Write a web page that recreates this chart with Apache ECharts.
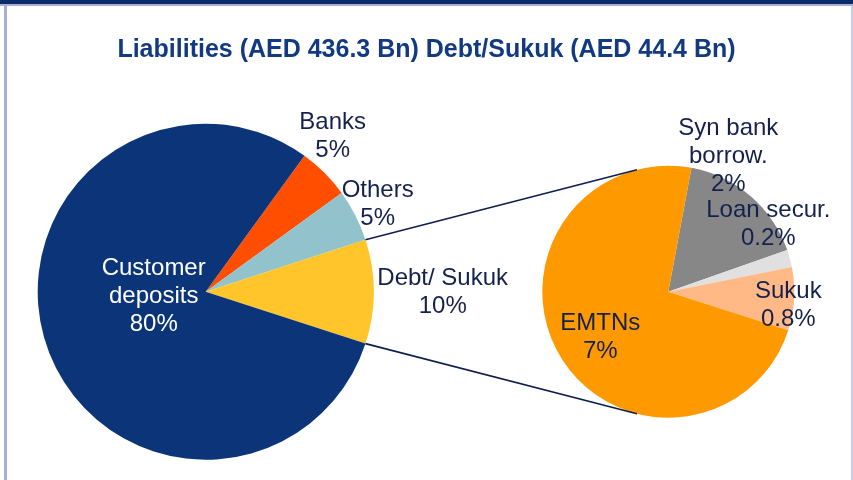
<!DOCTYPE html>
<html>
<head>
<meta charset="utf-8">
<script src="https://cdn.jsdelivr.net/npm/echarts@6/dist/echarts.min.js"></script>
<style>
html,body{margin:0;padding:0;background:#fff}
#chart{width:853px;height:480px}
</style>
</head>
<body>
<div id="chart"></div>
<script>
// liabilities split (% of total liabilities), clockwise from Banks
var liabNames = ['Banks', 'Others', 'Debt/ Sukuk', 'Customer\ndeposits'];
var liabValues = [5, 5, 10, 80];
var liabLabels = ['5%', '5%', '10%', '80%'];

// debt/sukuk breakdown (% of total liabilities), clockwise from Syn bank
var debtNames = ['Syn bank\nborrow.', 'Loan secur.', 'Sukuk', 'EMTNs'];
var debtValues = [1.67, 0.22, 0.81, 7.3];
var debtLabels = ['2%', '0.2%', '0.8%', '7%'];

var liabColors = ['#ff4e00', '#92c3cc', '#ffc52b', '#0b3578'];
var debtColors = ['#878787', '#e0e0e0', '#ffb987', '#ff9900'];

var leftPie = {cx: 205.7, cy: 291.7, r: 168, start: 54};
var rightPie = {cx: 668.3, cy: 291.7, r: 126, start: 79.4};
// label block centres, offset from each pie's centre
var liabLabelPos = [[127, -155], [172, -87], [237, 1], [-52, 5]];
var debtLabelPos = [[60, -135], [100, -67], [120, 14], [-68, 46]];
var zoomAngle = 104.4; // where the connector lines meet the small pie

var textColor = '#14214d';
var font = '"Liberation Sans", Arial, sans-serif';

var chart = echarts.init(document.getElementById('chart'));

function pieData(names, values, colors, whiteIdx) {
  return names.map(function (n, i) {
    return {
      name: n, value: values[i],
      itemStyle: {color: colors[i]},
      label: {color: i === whiteIdx ? '#ffffff' : textColor}
    };
  });
}

function pt(p, a) {
  var rad = a * Math.PI / 180;
  return [p.cx + p.r * Math.cos(rad), p.cy - p.r * Math.sin(rad)];
}

// edges of the Debt/ Sukuk slice on the big pie
var liabTotal = liabValues.reduce(function (s, v) { return s + v; }, 0);
var debtStart = leftPie.start - 360 * (liabValues[0] + liabValues[1]) / liabTotal;
var debtEnd = debtStart - 360 * liabValues[2] / liabTotal;
var up0 = pt(leftPie, debtStart), up1 = pt(rightPie, zoomAngle);
var lo0 = pt(leftPie, debtEnd), lo1 = pt(rightPie, -zoomAngle);

var lineStyle = {stroke: '#0d1f4d', lineWidth: 1.6};

var option = {
  animation: false,
  backgroundColor: '#ffffff',
  title: {
    text: 'Liabilities (AED 436.3 Bn) Debt/Sukuk (AED 44.4 Bn)',
    left: 'center',
    top: 38,
    padding: 0,
    textStyle: {fontFamily: font, fontSize: 25, fontWeight: 'bold', color: '#123a82'}
  },
  graphic: [
    {type: 'rect', shape: {x: 0, y: 0, width: 853, height: 4}, style: {fill: '#0b2a6a'}},
    {type: 'rect', shape: {x: 0, y: 4, width: 853, height: 2}, style: {fill: '#a8aed6'}},
    {type: 'rect', shape: {x: 4, y: 6, width: 3, height: 474}, style: {fill: '#a8aed6'}},
    {type: 'rect', shape: {x: 851, y: 6, width: 2, height: 474}, style: {fill: '#c8cce6'}},
    {type: 'line', shape: {x1: up0[0], y1: up0[1], x2: up1[0], y2: up1[1]}, style: lineStyle, z: 10},
    {type: 'line', shape: {x1: lo0[0], y1: lo0[1], x2: lo1[0], y2: lo1[1]}, style: lineStyle, z: 10}
  ],
  series: [
    {
      type: 'pie',
      center: [leftPie.cx, leftPie.cy],
      radius: leftPie.r,
      startAngle: leftPie.start,
      avoidLabelOverlap: false,
      emphasis: {disabled: true},
      label: {
        position: 'inside',
        fontFamily: font, fontSize: 24, lineHeight: 28,
        formatter: function (p) { return p.name + '\n' + liabLabels[p.dataIndex]; }
      },
      labelLine: {show: false},
      labelLayout: function (p) {
        var o = liabLabelPos[p.dataIndex];
        return {x: leftPie.cx + o[0], y: leftPie.cy + o[1], align: 'center', verticalAlign: 'middle'};
      },
      data: pieData(liabNames, liabValues, liabColors, 3)
    },
    {
      type: 'pie',
      center: [rightPie.cx, rightPie.cy],
      radius: rightPie.r,
      startAngle: rightPie.start,
      avoidLabelOverlap: false,
      emphasis: {disabled: true},
      label: {
        position: 'inside',
        fontFamily: font, fontSize: 24, lineHeight: 28,
        formatter: function (p) { return p.name + '\n' + debtLabels[p.dataIndex]; }
      },
      labelLine: {show: false},
      labelLayout: function (p) {
        var o = debtLabelPos[p.dataIndex];
        return {x: rightPie.cx + o[0], y: rightPie.cy + o[1], align: 'center', verticalAlign: 'middle'};
      },
      data: pieData(debtNames, debtValues, debtColors, -1)
    }
  ]
};
chart.setOption(option);
</script>
</body>
</html>
